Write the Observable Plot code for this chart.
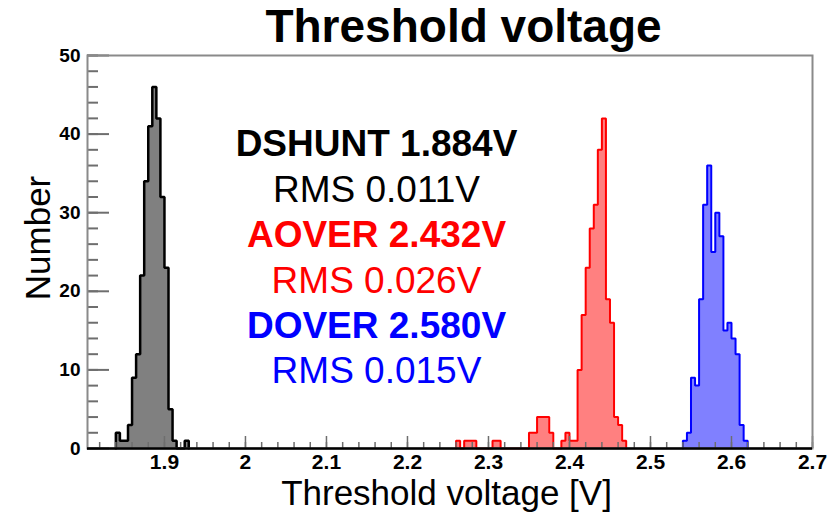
<!DOCTYPE html>
<html>
<head>
<meta charset="utf-8">
<script src="https://cdn.jsdelivr.net/npm/d3@7"></script>
<script src="https://cdn.jsdelivr.net/npm/@observablehq/plot@0.6"></script>
<style>
  html, body { margin: 0; padding: 0; background: #fff; }
</style>
</head>
<body>
<div id="chart"></div>
<script>
// ---- data ----
const binWidth = 0.005;

const blackStart = 1.840;
const blackCounts = [2, 1, 1, 3, 9, 12, 22, 34, 41, 46, 42, 32, 23, 5, 1, 0, 0, 1];

const redStart = 2.260;
const redCounts = [1, 0, 1, 1, 1, 0, 0, 0, 0, 1, 1, 0, 0, 0, 0, 0, 0, 0,
                   2, 2, 4, 4, 4, 2, 0, 0, 1, 2, 1, 1,
                   10, 17, 23, 28, 31, 38, 42, 19, 16, 4, 3, 1];

const blueStart = 2.540;
const blueCounts = [1, 2, 9, 8, 19, 31, 36, 25, 30, 27, 15, 16, 14, 12, 3, 1];

const xMajorTicks = [1.9, 2.0, 2.1, 2.2, 2.3, 2.4, 2.5, 2.6, 2.7];
const xTickLabels = ["1.9", "2", "2.1", "2.2", "2.3", "2.4", "2.5", "2.6", "2.7"];
const xMinorTicks = d3.range(91, 136).map(i => +(i * 0.02).toFixed(2));
const yMajorTicks = [0, 10, 20, 30, 40, 50];
const yTickLabels = ["0", "10", "20", "30", "40", "50"];
const yMinorTicks = d3.range(0, 51, 2);

const titleText = "Threshold voltage";
const xLabelText = "Threshold voltage [V]";
const yLabelText = "Number";
const statLabels = ["DSHUNT 1.884V", "RMS 0.011V", "AOVER 2.432V", "RMS 0.026V", "DOVER 2.580V", "RMS 0.015V"];
const statColors = ["#000000", "#000000", "#ff0000", "#ff0000", "#0000ff", "#0000ff"];
const statBold = [true, false, true, false, true, false];

// ---- layout ----
const W = 839, H = 515;
const mL = 87, mR = 27, mT = 55, mB = 67;
const frameW = W - mL - mR, frameH = H - mT - mB;
const font = "Liberation Sans, Arial, Helvetica, sans-serif";

function stepPoints(start, counts) {
  const pts = [{x: start, y: 0}];
  counts.forEach((c, i) => pts.push({x: start + i * binWidth, y: c}));
  pts.push({x: start + counts.length * binWidth, y: 0});
  return pts;
}

const series = [
  {pts: stepPoints(blackStart, blackCounts), fill: "#808080", stroke: "#000000", sw: 2.5},
  {pts: stepPoints(redStart, redCounts), fill: "#ff8080", stroke: "#ff0000", sw: 2},
  {pts: stepPoints(blueStart, blueCounts), fill: "#8080ff", stroke: "#0000ff", sw: 2}
];

const marks = [];
for (const s of series) {
  marks.push(Plot.areaY(s.pts, {x: "x", y: "y", curve: "step-after", fill: s.fill}));
}
for (const s of series) {
  marks.push(Plot.lineY(s.pts, {x: "x", y: "y", curve: "step-after", stroke: s.stroke, strokeWidth: s.sw, strokeLinejoin: "miter"}));
}

const tickColor = "#6e6e6e";
marks.push(
  Plot.ruleX(xMinorTicks, {x: d => d, stroke: tickColor, strokeWidth: 1.5, insetTop: frameH - 6}),
  Plot.ruleX(xMajorTicks, {x: d => d, stroke: tickColor, strokeWidth: 1.5, insetTop: frameH - 12}),
  Plot.ruleY(yMinorTicks, {y: d => d, stroke: tickColor, strokeWidth: 2, insetRight: frameW - 11}),
  Plot.ruleY(yMajorTicks, {y: d => d, stroke: tickColor, strokeWidth: 2, insetRight: frameW - 22}),
  Plot.frame({stroke: "#8a8a8a", strokeWidth: 2}),
  Plot.ruleY([0], {stroke: "#000", strokeWidth: 2.5}),
  Plot.axisX(xMajorTicks, {
    label: null, tickSize: 0, tickPadding: 6, fontSize: 21, fontWeight: "bold", fontFamily: font,
    tickFormat: d => xTickLabels[xMajorTicks.indexOf(d)]
  }),
  Plot.axisY(yMajorTicks, {
    label: null, tickSize: 0, tickPadding: 7, fontSize: 19, fontWeight: "bold", fontFamily: font,
    tickFormat: d => yTickLabels[yMajorTicks.indexOf(d)]
  }),
  Plot.text([titleText], {text: d => d, frameAnchor: "top", textAnchor: "middle", dx: 13.5, dy: -28, lineAnchor: "middle",
    fontSize: 46, fontWeight: "bold", fontFamily: font, fill: "#000"}),
  Plot.text([xLabelText], {text: d => d, frameAnchor: "bottom", textAnchor: "middle", dx: -3.5, dy: 45.5, lineAnchor: "middle",
    fontSize: 35, fontFamily: font, fill: "#000"}),
  Plot.text([yLabelText], {text: d => d, frameAnchor: "left", textAnchor: "middle", dx: -48.5, dy: -14, lineAnchor: "middle",
    rotate: -90, fontSize: 35, fontFamily: font, fill: "#000"})
);

statLabels.forEach((label, i) => {
  marks.push(Plot.text([label], {
    text: d => d, frameAnchor: "top", textAnchor: "middle", dx: -73.5, dy: 89 + i * 45.4, lineAnchor: "middle",
    fontSize: 37, fontWeight: statBold[i] ? "bold" : "normal", fontFamily: font, fill: statColors[i]
  }));
});

const chart = Plot.plot({
  width: W, height: H,
  marginLeft: mL, marginRight: mR, marginTop: mT, marginBottom: mB,
  style: {fontFamily: font, background: "#fff", overflow: "visible"},
  x: {domain: [1.805, 2.7], axis: null},
  y: {domain: [0, 50], axis: null},
  marks
});
document.getElementById("chart").appendChild(chart);
</script>
</body>
</html>
